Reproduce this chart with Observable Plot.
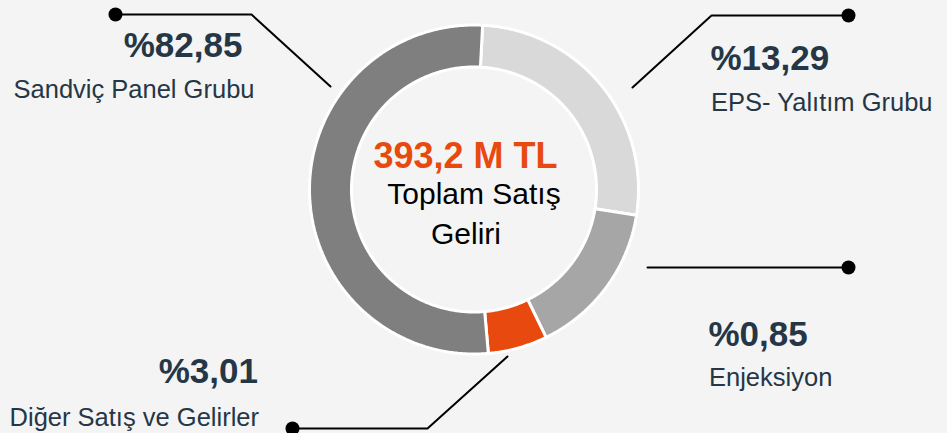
<!DOCTYPE html>
<html>
<head>
<meta charset="utf-8">
<script src="https://cdn.jsdelivr.net/npm/d3@7"></script>
<script src="https://cdn.jsdelivr.net/npm/@observablehq/plot@0.6"></script>
<style>
  html, body { margin: 0; padding: 0; background: #f4f4f4; }
  #chart svg { display: block; background: #f4f4f4; }
</style>
</head>
<body>
<div id="chart"></div>
<script>
// ---- data ----
const categories = ["Sandviç Panel Grubu", "EPS- Yalıtım Grubu", "Enjeksiyon", "Diğer Satış ve Gelirler"];
const shareLabels = ["%82,85", "%13,29", "%0,85", "%3,01"];
// arc span (degrees) of each slice as drawn in the reference
const arcDegrees = [188, 96, 55, 21];
const sliceColors = ["#7f7f7f", "#d9d9d9", "#a6a6a6", "#e8490f"];
// clockwise drawing order starting near 12 o'clock
const drawOrder = [1, 2, 3, 0];
const startAngle = 3;
const totalLabel = "393,2 M TL";
const centerLines = ["Toplam Satış", "Geliri"];

// ---- layout (pixels relative to donut centre) ----
const W = 947, H = 433, CX = 473.5, CY = 189;
const R_OUT = 164.5, R_IN = 122.5;

// leader lines: polyline points (absolute px) – dot at first point
const leaders = [
  [[115, 14], [251, 14], [330, 86]],
  [[848, 15], [711, 15], [632, 87]],
  [[848, 267], [647, 267]],
  [[292, 428], [427, 428], [507, 356]]
];
// label placement (absolute px): [pctX, pctBaseline, nameX, nameBaseline, anchor]
const labelPos = [
  [182.5, 56, 133.5, 97, "middle"],
  [710, 69, 710.5, 110, "start"],
  [708, 345, 708.5, 385, "start"],
  [257.5, 382, 258.5, 425, "end"]
];

// ---- build slice polygons ----
const slicePts = [];
let a = startAngle;
for (const i of drawOrder) {
  const a0 = a, a1 = a + arcDegrees[i];
  const pts = [];
  const steps = Math.max(2, Math.ceil((a1 - a0) * 2));
  for (let k = 0; k <= steps; k++) {
    const t = (a0 + (a1 - a0) * k / steps) * Math.PI / 180;
    pts.push({x: R_OUT * Math.sin(t), y: -R_OUT * Math.cos(t), cat: categories[i]});
  }
  for (let k = steps; k >= 0; k--) {
    const t = (a0 + (a1 - a0) * k / steps) * Math.PI / 180;
    pts.push({x: R_IN * Math.sin(t), y: -R_IN * Math.cos(t), cat: categories[i]});
  }
  pts.push({...pts[0]});
  slicePts.push({i, pts});
  a = a1;
}

const rel = ([x, y]) => ({x: x - CX, y: y - CY});
const font = "Liberation Sans, Arial, sans-serif";
const navy = "#253746";

const labelPct = categories.map((c, i) => ({text: shareLabels[i], ...rel([labelPos[i][0], labelPos[i][1]]), anchor: labelPos[i][4]}));
const labelName = categories.map((c, i) => ({text: c, ...rel([labelPos[i][2], labelPos[i][3]]), anchor: labelPos[i][4]}));

const marks = [];
for (const s of slicePts) {
  marks.push(Plot.line(s.pts, {x: "x", y: "y", fill: sliceColors[s.i], stroke: "white", strokeWidth: 3, strokeLinejoin: "miter"}));
}
leaders.forEach(l => {
  marks.push(Plot.line(l.map(rel), {x: "x", y: "y", stroke: "#000", strokeWidth: 2}));
  marks.push(Plot.dot([rel(l[0])], {x: "x", y: "y", r: 7, fill: "#000"}));
});
for (const anchor of ["start", "middle", "end"]) {
  marks.push(Plot.text(labelPct.filter(d => d.anchor === anchor), {x: "x", y: "y", text: "text", textAnchor: anchor, lineAnchor: "bottom", fontSize: 35, fontWeight: "bold", fill: navy, fontFamily: font}));
  marks.push(Plot.text(labelName.filter(d => d.anchor === anchor), {x: "x", y: "y", text: "text", textAnchor: anchor, lineAnchor: "bottom", fontSize: 25.5, fill: navy, fontFamily: font}));
}
marks.push(Plot.text([{t: totalLabel, ...rel([465, 167])}], {x: "x", y: "y", text: "t", lineAnchor: "bottom", fontSize: 36, fontWeight: "bold", fill: "#e8490f", fontFamily: font}));
marks.push(Plot.text([{t: centerLines[0], ...rel([473.5, 203.5])}, {t: centerLines[1], ...rel([465.5, 243])}], {x: "x", y: "y", text: "t", lineAnchor: "bottom", fontSize: 30, fill: "#000", fontFamily: font}));

const chart = Plot.plot({
  width: W, height: H,
  margin: 0,
  x: {domain: [-CX, W - CX], range: [0, W], axis: null},
  y: {domain: [-CY, H - CY], range: [0, H], axis: null},
  style: {background: "#f4f4f4", fontFamily: font, overflow: "hidden"},
  marks
});
document.getElementById("chart").appendChild(chart);
</script>
</body>
</html>
